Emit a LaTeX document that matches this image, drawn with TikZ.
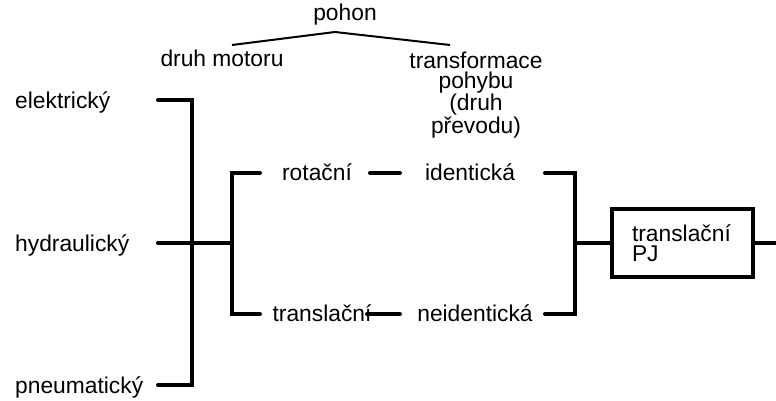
\documentclass[tikz,border=0pt]{standalone}
\usepackage{fontspec}
\setmainfont{Liberation Sans}
\begin{document}
\begin{tikzpicture}[x=1pt,y=-1pt,
  lbl/.style={inner sep=0pt,font=\fontsize{22.8}{20}\selectfont},
  thickln/.style={line width=4pt,line cap=round,line join=miter},
  thinln/.style={line width=2pt}]
\useasboundingbox (0,0) rectangle (776,401);
% labels
\node[lbl] (pohon) at (345,15) {pohon};
\node[lbl] (dm) at (222,58) {druh motoru};
\node[lbl,align=center] (tp) at (476,95) {transformace\\pohybu\\(druh\\převodu)};
\node[lbl,anchor=west] (el) at (15,102) {elektrický};
\node[lbl,anchor=west] (hy) at (15,245) {hydraulický};
\node[lbl,anchor=west] (pn) at (15,387) {pneumatický};
\node[lbl] (rot) at (317,172) {rotační};
\node[lbl] (tra) at (322,313) {translační};
\node[lbl] (ide) at (470,172) {identická};
\node[lbl] (nei) at (475,313) {neidentická};
\node[lbl,draw,line width=4pt,align=left,text width=101pt,inner xsep=20pt,minimum height=68pt] (box) at (682.5,243) {translační\\PJ};
% coordinates
\coordinate (ap) at (335,32);
\coordinate (la) at (232,45);
\coordinate (ra) at (450,45);
\coordinate (e1) at (158,100); \coordinate (e2) at (192,100);
\coordinate (h1) at (158,243); \coordinate (j1) at (192,243); \coordinate (j2) at (232,243);
\coordinate (p1) at (158,385); \coordinate (p2) at (192,385);
\coordinate (r1) at (260,173); \coordinate (r2) at (232,173);
\coordinate (t1) at (260,314); \coordinate (t2) at (232,314);
\coordinate (d1) at (370,173); \coordinate (d2) at (400,173);
\coordinate (d3) at (367,314); \coordinate (d4) at (400,314);
\coordinate (i1) at (545,173); \coordinate (i2) at (575,173);
\coordinate (n1) at (545,314); \coordinate (n2) at (575,314);
\coordinate (m1) at (575,243);
\coordinate (out) at (776,243);
% top tree
\draw[thinln] (la) -- (ap) -- (ra);
% brackets
\draw[thickln] (e1) -- (e2) -- (p2) -- (p1);
\draw[thickln] (h1) -- (j2);
\draw[thickln] (r1) -- (r2) -- (t2) -- (t1);
\draw[thickln] (d1) -- (d2);
\draw[thickln] (d3) -- (d4);
\draw[thickln] (i1) -- (i2) -- (n2) -- (n1);
\draw[thickln] (m1) -- (box.west);
\draw[thickln,line cap=butt] (box.east) -- (out);
\end{tikzpicture}
\end{document}
